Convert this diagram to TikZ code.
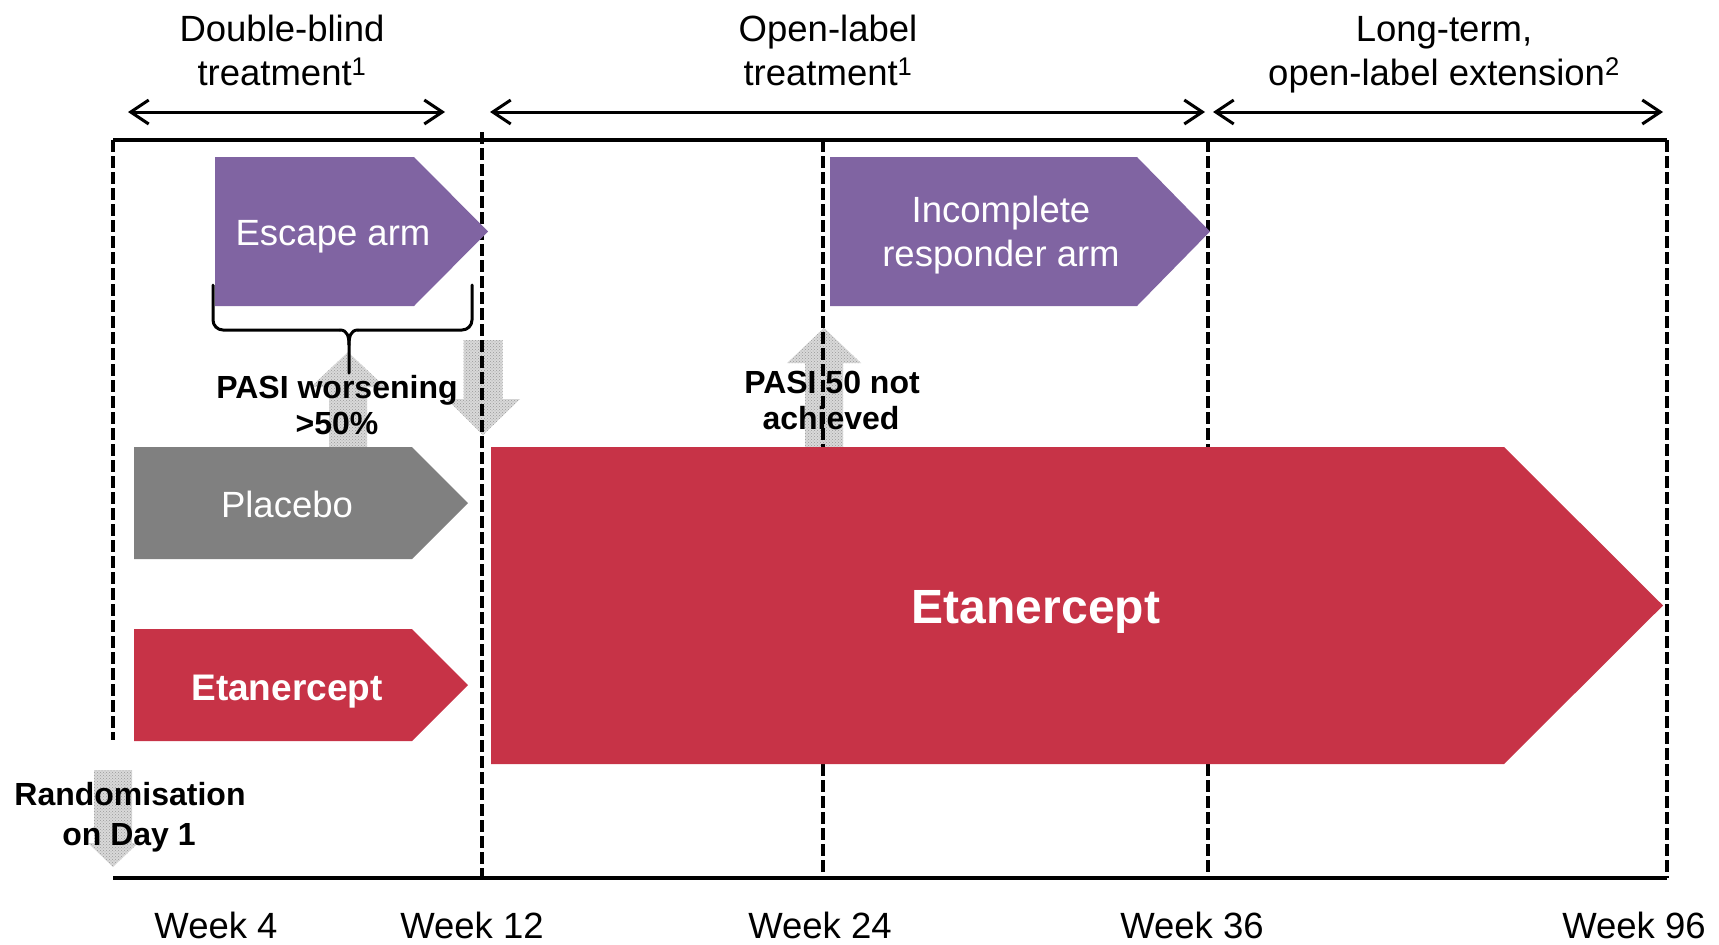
\documentclass[tikz,border=0pt]{standalone}
\usepackage{fontspec}
\setmainfont{Liberation Sans}
\usetikzlibrary{arrows.meta,patterns}
\definecolor{purp}{RGB}{128,100,162}
\definecolor{etared}{RGB}{199,51,71}
\definecolor{plgray}{RGB}{128,128,128}
\tikzset{
  hdr/.style={font=\fontsize{36.5}{44}\selectfont, inner sep=0pt, anchor=base},
  boxtxt/.style={font=\fontsize{36.5}{44}\selectfont, text=white, inner sep=0pt, anchor=base},
  boxbold/.style={font=\bfseries\fontsize{37}{44}\selectfont, text=white, inner sep=0pt, anchor=base},
  bigbold/.style={font=\bfseries\fontsize{48}{56}\selectfont, text=white, inner sep=0pt, anchor=base},
  lbl/.style={font=\bfseries\fontsize{32}{38}\selectfont, inner sep=0pt, anchor=base},
  vdash/.style={line width=4pt, dash pattern=on 12pt off 4pt},
  tline/.style={line width=3.5pt},
  span/.style={line width=3pt, <->, >={Straight Barb[length=18pt,width=24pt]}},
  bracestyle/.style={line width=3pt, line cap=round},
  greyarrow/.style={fill=gray!30},
  greydots/.style={pattern=crosshatch dots, pattern color=gray!80},
}
\begin{document}
\begin{tikzpicture}[x=1pt,y=-1pt]
\useasboundingbox (0,0) rectangle (1719,945);

% grey dotted arrows
\foreach \s in {greyarrow,greydots}{
  \path[\s] (329,447) -- (329,387) -- (311,387) -- (348,352) -- (385,387) -- (367,387) -- (367,447) -- cycle;
  \path[\s] (463.5,340) -- (463.5,399) -- (447,399) -- (483,435) -- (520,399) -- (502.5,399) -- (502.5,340) -- cycle;
  \path[\s] (805,447) -- (805,363) -- (787,363) -- (824,328) -- (861,363) -- (843,363) -- (843,447) -- cycle;
  \path[\s] (94,770) -- (94,843) -- (88,843) -- (113,867) -- (138,843) -- (132,843) -- (132,770) -- cycle;
}

% brace
\draw[bracestyle, rounded corners=10pt] (213,285) -- (213,330) -- (340,330);
\draw[bracestyle] (340,330) .. controls (347,330) and (349,336) .. (349,345) -- (349,373);
\draw[bracestyle] (358,330) .. controls (351,330) and (349,336) .. (349,345);
\draw[bracestyle, rounded corners=10pt] (358,330) -- (472,330) -- (472,285);

% labels near arrows
\node[lbl] (pw1) at (337,398) {PASI worsening};
\node[lbl] (pw2) at (337,434) {>50\%};
\node[lbl] (pn1) at (832,393) {PASI 50 not};
\node[lbl] (pn2) at (831,429) {achieved};
\node[lbl] (rd1) at (130,805) {Randomisation};
\node[lbl] (rd2) at (129,845) {on Day 1};

% timeline frame
\coordinate (tl) at (113,140);
\coordinate (tr) at (1667,140);
\coordinate (bl) at (113,878);
\coordinate (br) at (1667,878);
\draw[tline] (tl) -- (tr);
\draw[tline] (bl) -- (br);
\coordinate (v0a) at (113,140); \coordinate (v0b) at (113,740);
\coordinate (v1a) at (482,132); \coordinate (v1b) at (482,878);
\coordinate (v2a) at (823,140); \coordinate (v2b) at (823,878);
\coordinate (v3a) at (1208,140); \coordinate (v3b) at (1208,878);
\coordinate (v4a) at (1667,140); \coordinate (v4b) at (1667,878);
\draw[vdash] (v0a) -- (v0b);
\draw[vdash] (v1a) -- (v1b);
\draw[vdash] (v2a) -- (v2b);
\draw[vdash] (v3a) -- (v3b);
\draw[vdash] (v4a) -- (v4b);

% phase spans
\coordinate (s1a) at (128,112); \coordinate (s1b) at (445,112);
\coordinate (s2a) at (490,112); \coordinate (s2b) at (1205,112);
\coordinate (s3a) at (1213,112); \coordinate (s3b) at (1663,112);
\draw[span] (s1a) -- (s1b);
\draw[span] (s2a) -- (s2b);
\draw[span] (s3a) -- (s3b);

% headers
\node[hdr] (h1a) at (282,41) {Double-blind};
\node[hdr] (h1b) at (282,85) {treatment\textsuperscript{1}};
\node[hdr] (h2a) at (828,41) {Open-label};
\node[hdr] (h2b) at (828,85) {treatment\textsuperscript{1}};
\node[hdr] (h3a) at (1444,41) {Long-term,};
\node[hdr] (h3b) at (1444,85) {open-label extension\textsuperscript{2}};

% coloured arms
\fill[purp] (215,157) -- (414,157) -- (488,231.5) -- (414,306) -- (215,306) -- cycle;
\fill[purp] (830,157) -- (1137,157) -- (1210,231.5) -- (1137,306) -- (830,306) -- cycle;
\fill[plgray] (134,447) -- (412,447) -- (468,503) -- (412,559) -- (134,559) -- cycle;
\fill[etared] (134,629) -- (412,629) -- (468,685) -- (412,741) -- (134,741) -- cycle;
\fill[etared] (491,447) -- (1504,447) -- (1663,605.5) -- (1504,764) -- (491,764) -- cycle;

\node[boxtxt] (esc) at (333,245) {Escape arm};
\node[boxtxt] (inc1) at (1001,222) {Incomplete};
\node[boxtxt] (inc2) at (1001,266) {responder arm};
\node[boxtxt] (plc) at (287,517) {Placebo};
\node[boxbold] (eta1) at (287,700) {Etanercept};
\node[bigbold] (eta2) at (1036,623) {Etanercept};

% week labels
\node[hdr] (w4) at (216,938) {Week 4};
\node[hdr] (w12) at (472,938) {Week 12};
\node[hdr] (w24) at (820,938) {Week 24};
\node[hdr] (w36) at (1192,938) {Week 36};
\node[hdr] (w96) at (1634,938) {Week 96};
\end{tikzpicture}
\end{document}
